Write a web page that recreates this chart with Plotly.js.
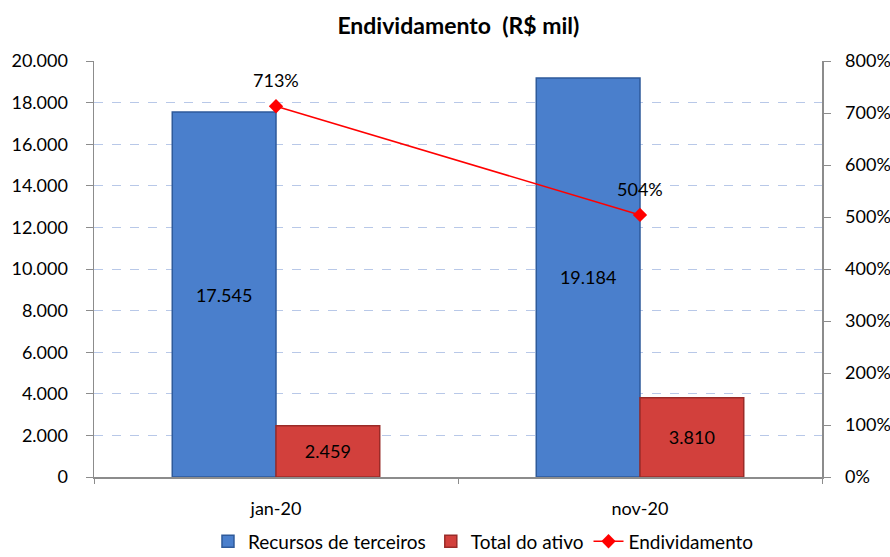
<!DOCTYPE html>
<html>
<head>
<meta charset="utf-8">
<script src="https://cdn.plot.ly/plotly-3.0.1.min.js"></script>
<style>html,body{margin:0;padding:0;background:#fff}#chart{width:890px;height:557px}</style>
</head>
<body>
<div id="chart"></div>
<script>
const categories = ['jan-20', 'nov-20'];
const recursosTerceiros = [17545, 19184];
const totalAtivo = [2459, 3810];
const endividamento = [7.13, 5.04];
const seriesNames = ['Recursos de terceiros', 'Total do ativo', 'Endividamento'];

const font = 'Lato, "Open Sans", sans-serif';

const traces = [
  {
    type: 'bar', name: seriesNames[0], x: categories, y: recursosTerceiros,
    marker: {color: '#4a7fcc', line: {color: '#2e5a9a', width: 1.5}},
    texttemplate: '%{y:,.0f}', textposition: 'inside', insidetextanchor: 'middle',
    textfont: {color: '#000', size: 18, family: font},
    hoverinfo: 'skip'
  },
  {
    type: 'bar', name: seriesNames[1], x: categories, y: totalAtivo,
    marker: {color: '#d2403c', line: {color: '#9a2b28', width: 1.5}},
    texttemplate: '%{y:,.0f}', textposition: 'inside', insidetextanchor: 'middle',
    textfont: {color: '#000', size: 18, family: font},
    hoverinfo: 'skip'
  },
  {
    type: 'scatter', name: seriesNames[2], x: categories, y: endividamento, yaxis: 'y2',
    mode: 'lines+markers',
    line: {color: '#ff0000', width: 1.5},
    marker: {symbol: 'diamond', size: 11, color: '#ff0000'},
    cliponaxis: false
  }
];

const annotations = categories.map((c, i) => ({
  x: c, y: endividamento[i], xref: 'x', yref: 'y2',
  text: Math.round(endividamento[i] * 100) + '%',
  showarrow: false, yshift: 26,
  font: {family: font, size: 18, color: '#000'}
}));

const layout = {
  width: 890, height: 557,
  margin: {l: 94, r: 68, t: 61, b: 80, autoexpand: false},
  paper_bgcolor: '#fff', plot_bgcolor: '#fff',
  separators: ',.',
  font: {family: font, size: 18, color: '#000'},
  title: {text: '<b>Endividamento  (R$ mil)</b>', x: 0.515, xanchor: 'center', yref: 'container', y: 0.953, yanchor: 'middle',
          font: {family: font, size: 23, color: '#000'}},
  barmode: 'group', bargap: 0.43, bargroupgap: 0,
  showlegend: true,
  legend: {orientation: 'h', x: 0.535, xanchor: 'center', yref: 'container', y: 0.028, yanchor: 'middle',
           font: {family: font, size: 19}, traceorder: 'normal', itemwidth: 30},
  annotations: annotations,
  xaxis: {
    type: 'category', showline: true, linecolor: '#8c8c8c', linewidth: 1.5,
    ticks: 'outside', tickson: 'boundaries', ticklen: 5, tickcolor: '#8c8c8c',
    showgrid: false, zeroline: false, tickfont: {size: 18}, ticklabelstandoff: 15
  },
  yaxis: {
    range: [0, 20000], dtick: 2000, tickformat: ',.0f',
    showline: true, linecolor: '#8c8c8c', linewidth: 1.5,
    ticks: 'outside', ticklen: 7, tickcolor: '#8c8c8c',
    gridcolor: '#b8c8e8', griddash: 'dash', gridwidth: 1, zeroline: false,
    tickfont: {size: 18}, ticklabelstandoff: 14
  },
  yaxis2: {
    overlaying: 'y', side: 'right', range: [0, 8], dtick: 1, tickformat: '.0%',
    showline: true, linecolor: '#8c8c8c', linewidth: 1.5,
    ticks: 'outside', ticklen: 7, tickcolor: '#8c8c8c',
    showgrid: false, zeroline: false, tickfont: {size: 18}, ticklabelstandoff: 11
  }
};

Plotly.newPlot('chart', traces, layout, {displayModeBar: false, staticPlot: true});
</script>
</body>
</html>
